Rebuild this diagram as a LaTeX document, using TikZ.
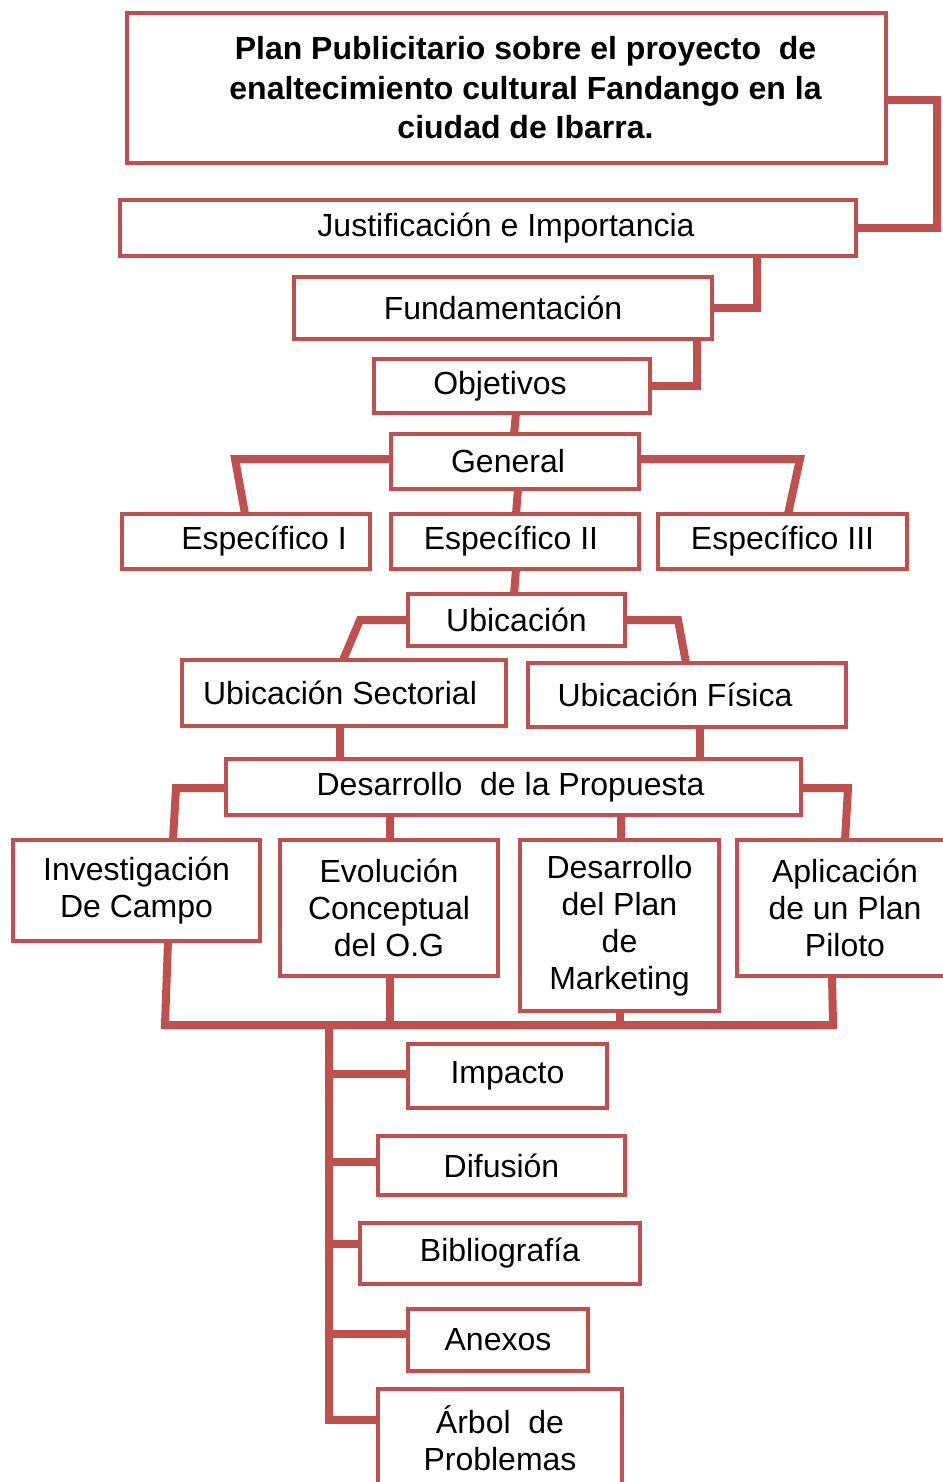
\documentclass[tikz,border=0pt]{standalone}
\usepackage{fontspec}
\setmainfont{Liberation Sans}
\usetikzlibrary{positioning}
\definecolor{rojo}{HTML}{C0504D}
\tikzset{
    %Define style for boxes
    caja/.style={
           rectangle,
           draw=rojo, line width=4.5pt,
           fill=white,
           inner sep=0pt, outer sep=0pt,
           align=center,
           font=\fontsize{32}{37}\selectfont},
    titular/.style={
           caja,
           font=\fontsize{32}{39.5}\selectfont\bfseries},
    % Define line style
    enlace/.style={
           draw=rojo,
           line width=8pt,
           line join=miter}
}
\begin{document}
\begin{tikzpicture}[x=1pt,y=-1pt]
\useasboundingbox (0,0) rectangle (942,1482);
% cabecera
\node[titular, minimum width=759pt, minimum height=150pt](titulo) at (506.5,88)
   {\hspace*{38pt}Plan Publicitario sobre el proyecto~ de\\ \hspace*{38pt}enaltecimiento cultural Fandango en la\\ \hspace*{38pt}ciudad de Ibarra.};
\node[caja, minimum width=736pt, minimum height=56pt](just) at (488,228){\hspace*{36pt}Justificación e Importancia};
\node[caja, minimum width=418pt, minimum height=62pt](fund) at (503,308){Fundamentación};
\node[caja, minimum width=276pt, minimum height=54pt](obj) at (512,386){Objetivos\hspace*{24pt}};
% objetivos
\node[caja, minimum width=248pt, minimum height=55pt](gen) at (515,461.5){General\hspace*{14pt}};
\node[caja, minimum width=248pt, minimum height=55pt](esp2) at (515,541.5){Específico II\hspace*{8pt}};
\node[caja, minimum width=248pt, minimum height=55pt, left=21pt of esp2](esp1){\hspace*{36pt}Específico I};
\node[caja, minimum width=249pt, minimum height=55pt, right=19pt of esp2](esp3){Específico III};
% ubicacion
\node[caja, minimum width=217pt, minimum height=52pt](ubic) at (516.5,620){Ubicación};
\node[caja, minimum width=324pt, minimum height=66pt](sect) at (344,693){Ubicación Sectorial\hspace*{8pt}};
\node[caja, minimum width=318pt, minimum height=64pt](fis) at (687,695){Ubicación Física\hspace*{24pt}};
% propuesta
\node[caja, minimum width=575pt, minimum height=56pt](desa) at (513.5,787){Desarrollo~ de la Propuesta\hspace*{6pt}};
\node[caja, minimum width=247pt, minimum height=101pt](inv) at (136.5,890.5){Investigación\\De Campo};
\node[caja, minimum width=218pt, minimum height=136pt](evo) at (389,908){Evolución\\Conceptual\\del O.G};
\node[caja, minimum width=199pt, minimum height=171pt](mkt) at (619.5,925.5){Desarrollo\\del Plan\\de\\Marketing};
\node[caja, minimum width=216pt, minimum height=136pt](apl) at (845,908){Aplicación\\de un Plan\\Piloto};
% lista final
\node[caja, minimum width=199pt, minimum height=64pt](imp) at (507.5,1076){Impacto};
\node[caja, minimum width=247pt, minimum height=59pt](dif) at (501.5,1165.5){Difusión};
\node[caja, minimum width=280pt, minimum height=61pt](bib) at (500,1253.5){Bibliografía};
\node[caja, minimum width=180pt, minimum height=62pt](anx) at (498,1340){Anexos};
\node[caja, minimum width=244pt, minimum height=99pt](arb) at (500,1438.5){Árbol~ de\\Problemas};
\coordinate (tronco) at (329,1025);

\path[enlace] (titulo.east |- 0,100) -- (937,100) |- (just.east);
\path[enlace] (757,0 |- just.south) |- (fund.east);
\path[enlace] (697,0 |- fund.south) |- (obj.east);
\path[enlace] (516,0 |- obj.south) -- (514,0 |- gen.north);
\path[enlace] (gen.west |- 0,459) -- (235,459) -- (245,0 |- esp1.north);
\path[enlace] (gen.east |- 0,459) -- (800,459) -- (788,0 |- esp3.north);
\path[enlace] (518,0 |- gen.south) -- (516,0 |- esp2.north);
\path[enlace] (516,0 |- esp2.south) -- (514,0 |- ubic.north);
\path[enlace] (ubic.west |- 0,620) -- (360,620) -- (343,0 |- sect.north);
\path[enlace] (ubic.east |- 0,620) -- (678,620) -- (686,0 |- fis.north);
\path[enlace] (340,0 |- sect.south) -- (340,0 |- desa.north);
\path[enlace] (700,0 |- fis.south) -- (700,0 |- desa.north);
\path[enlace] (desa.west |- 0,788) -- (176,788) -- (173,0 |- inv.north);
\path[enlace] (desa.east |- 0,788) -- (848,788) -- (845,0 |- apl.north);
\path[enlace] (390,0 |- desa.south) -- (390,0 |- evo.north);
\path[enlace] (621,0 |- desa.south) -- (621,0 |- mkt.north);
\path[enlace] (168,0 |- inv.south) -- (165,1025) -- (833,1025) -- (832,0 |- apl.south);
\path[enlace] (390,0 |- evo.south) -- (390,1025);
\path[enlace] (620,0 |- mkt.south) -- (620,1025);
\path[enlace] (tronco) -- (329,1420) -- (arb.west |- 0,1420);
\path[enlace] (tronco |- 0,1074) -- (imp.west |- 0,1074);
\path[enlace] (tronco |- 0,1162) -- (dif.west |- 0,1162);
\path[enlace] (tronco |- 0,1244) -- (bib.west |- 0,1244);
\path[enlace] (tronco |- 0,1334) -- (anx.west |- 0,1334);
\end{tikzpicture}
\end{document}
